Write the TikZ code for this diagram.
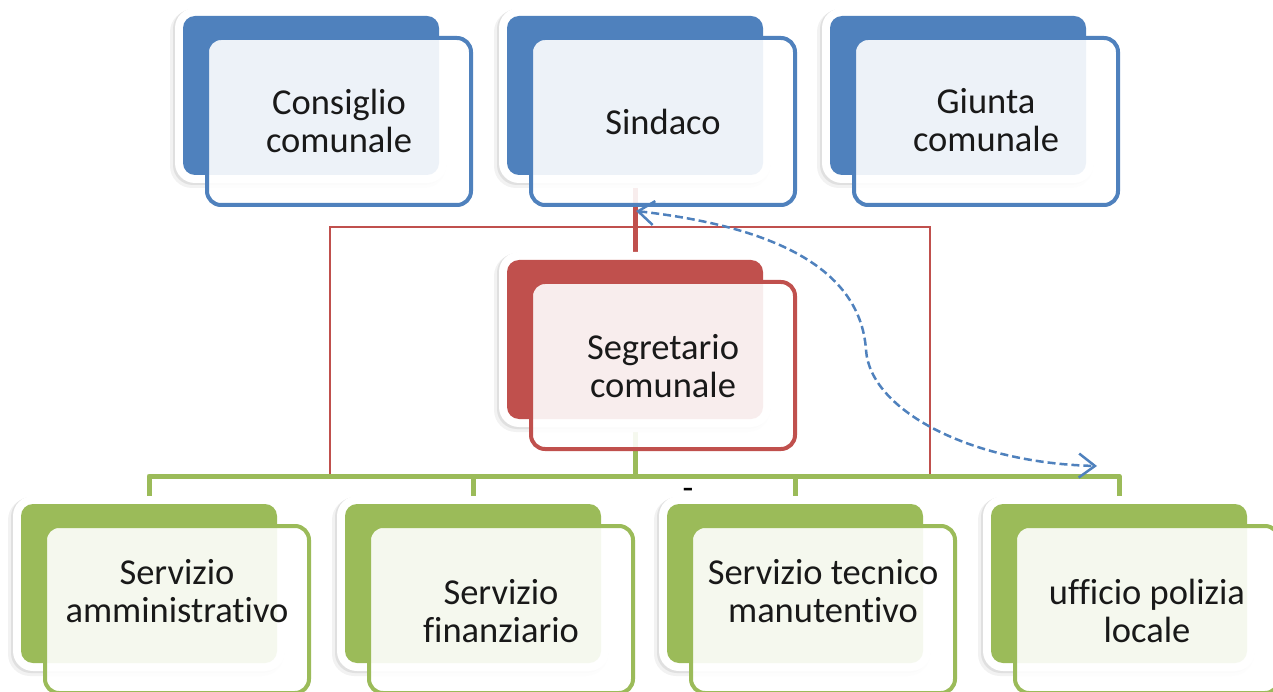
\documentclass[tikz,border=0pt]{standalone}
\usepackage{fontspec}
\setmainfont{Carlito}[Ligatures=NoCommon]
\usetikzlibrary{arrows.meta,calc}
\definecolor{cblue}{HTML}{4F81BD}
\definecolor{cred}{HTML}{C0504D}
\definecolor{cgreen}{HTML}{9BBB59}
\pgfdeclarelayer{bg}
\pgfsetlayers{bg,main}
\tikzset{
  backbox/.style={minimum width=256pt, minimum height=159pt, rounded corners=12pt, inner sep=0pt, outer sep=0pt},
  frontbox/.style={minimum width=264pt, minimum height=167pt, rounded corners=14pt, line width=4pt,
    fill=white, fill opacity=0.9, draw opacity=1, inner sep=0pt},
  boxtext/.style={align=center, inner sep=0pt, font=\fontsize{36.5}{38}\selectfont, text=black!90},
  greenline/.style={draw=cgreen, line width=5pt},
  redthick/.style={draw=cred, line width=5pt},
  redthin/.style={draw=cred, line width=2.5pt},
  dashlink/.style={draw=cblue, line width=2.5pt, dash pattern=on 8pt off 4pt,
    {Straight Barb[length=16pt,width=24pt]}-{Straight Barb[length=16pt,width=24pt]}},
}
\newcommand\orgbox[6]{%
  \fill[black!5, rounded corners=22pt] (#3-13,#4-6) rectangle (#3+256+7,#4+159+13);
  \fill[black!12, rounded corners=20pt] (#3-10,#4-7) rectangle (#3+256+6,#4+159+10);
  \fill[white, rounded corners=20pt] (#3-8,#4-8) rectangle (#3+256+8,#4+159+8);
  \node[backbox, fill=#2, anchor=north west] (#1b) at (#3,#4) {};
  \node[frontbox, draw=#2, anchor=north west, outer sep=0pt] (#1f) at (#3+24,#4+22) {};
  \node[boxtext] (#1t) at ($(#1f.center)+(0,#6)$) {#5};
}
\begin{document}
\begin{tikzpicture}[x=1pt,y=-1pt]
\useasboundingbox (0,0) rectangle (1273,692);
\clip (0,0) rectangle (1273,692);
% top row
\orgbox{cons}{cblue}{183}{16}{Consiglio\\comunale}{-1}
\orgbox{sind}{cblue}{507}{16}{Sindaco}{0}
\orgbox{giun}{cblue}{830}{16}{Giunta\\comunale}{-1}
% middle
\orgbox{segr}{cred}{507}{260}{Segretario\\comunale}{1}
% bottom row
\orgbox{amm}{cgreen}{21}{504}{Servizio\\amministrativo}{-18}
\orgbox{fin}{cgreen}{345}{504}{Servizio\\finanziario}{1.5}
\orgbox{tec}{cgreen}{667}{504}{Servizio tecnico\\manutentivo}{-18}
\orgbox{pol}{cgreen}{991}{504}{ufficio polizia\\locale}{1.5}
% connectors (behind boxes)
\coordinate (busY) at (0,476);
\coordinate (redL) at (330,476);
\coordinate (redR) at (930,476);
\coordinate (redTop) at (0,227);
\begin{pgfonlayer}{bg}
  \draw[redthin] (redL) -- (redL |- redTop) -- (redR |- redTop) -- (redR);
  \draw[redthick] (sindb.south) -- (segrb.north);
  \draw[greenline] (segrb.south) -- (segrb.south |- busY);
  \draw[greenline, line join=round] (ammb.north) -- (ammb.north |- busY) -- (polb.north |- busY) -- (polb.north);
  \draw[greenline] (finb.north) -- (finb.north |- busY);
  \draw[greenline] (tecb.north) -- (tecb.north |- busY);
\end{pgfonlayer}
% dashed bidirectional link
\coordinate (dashA) at (636,211);
\coordinate (dashB) at (1097,466);
\draw[dashlink] (dashA) .. controls (760,225) and (860,262) .. (866,350)
  .. controls (870,410) and (970,463) .. (dashB);
% small mark
\node[font=\fontsize{35}{38}\selectfont, inner sep=0pt] (mark) at (688,494) {-};
\end{tikzpicture}
\end{document}
